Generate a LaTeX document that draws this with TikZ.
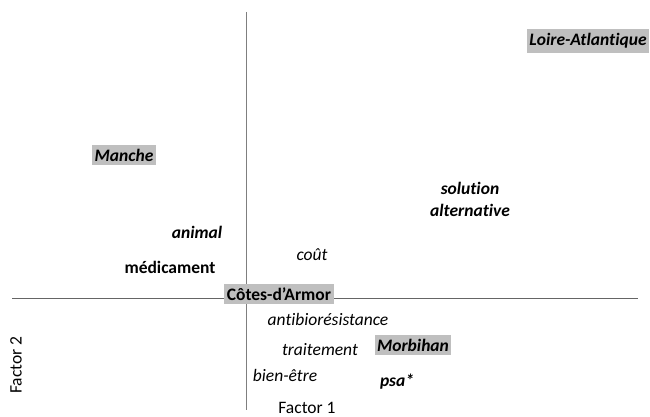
\documentclass[tikz,border=0pt]{standalone}
\usepackage{fontspec}
\setmainfont{Carlito}[Ligatures=NoCommon]
\usepackage{xcolor}
\usetikzlibrary{positioning}
\definecolor{boxgray}{HTML}{BFBFBF}
\definecolor{axisgray}{HTML}{7F7F7F}

\begin{document}
\begin{tikzpicture}[x=1pt,y=-1pt,
    every node/.style={font=\fontsize{17.5}{22}\selectfont, inner sep=2.5pt},
    region/.style={fill=boxgray, inner ysep=4pt, font=\fontsize{17.5}{22}\selectfont\bfseries\itshape},
    term/.style={font=\fontsize{17.5}{22}\selectfont\itshape},
    bterm/.style={font=\fontsize{17.5}{22}\selectfont\bfseries\itshape}]
  \useasboundingbox (0,0) rectangle (650,417);

  % Axes
  \coordinate (ytop) at (246,12);
  \coordinate (ybot) at (246,410);
  \coordinate (xleft) at (12,298);
  \coordinate (xright) at (638,298);
  \draw[axisgray, line width=1pt] (ytop) -- (ybot);
  \draw[axisgray!80!black, line width=1pt] (xleft) -- (xright);

  % Departements
  \node[region] (loire) at (588,41) {Loire-Atlantique};
  \node[region] (manche) at (124,155) {Manche};
  \node[region] (morbihan) at (413,345) {Morbihan};
  \node[region, font=\fontsize{17.5}{22}\selectfont\bfseries] (cotes) at (279,294) {Côtes-d’Armor};

  % Termes
  \node[bterm, align=center] (solution) at (470,199) {solution\\alternative};
  \node[bterm] (animal) at (197,232) {animal};
  \node[term] (cout) at (312,255) {coût};
  \node[font=\fontsize{17.5}{22}\selectfont\bfseries] (medic) at (170,267) {médicament};
  \node[term] (antibio) at (328,319) {antibiorésistance};
  \node[term] (traitement) at (320,350) {traitement};
  \node[term] (bienetre) at (285,375) {bien-être};
  \node[bterm] (psa) at (397,382) {psa*};

  % Facteurs
  \node (factor1) at (307,408) {Factor 1};
  \node[rotate=90] (factor2) at (16,365) {Factor 2};
\end{tikzpicture}
\end{document}
